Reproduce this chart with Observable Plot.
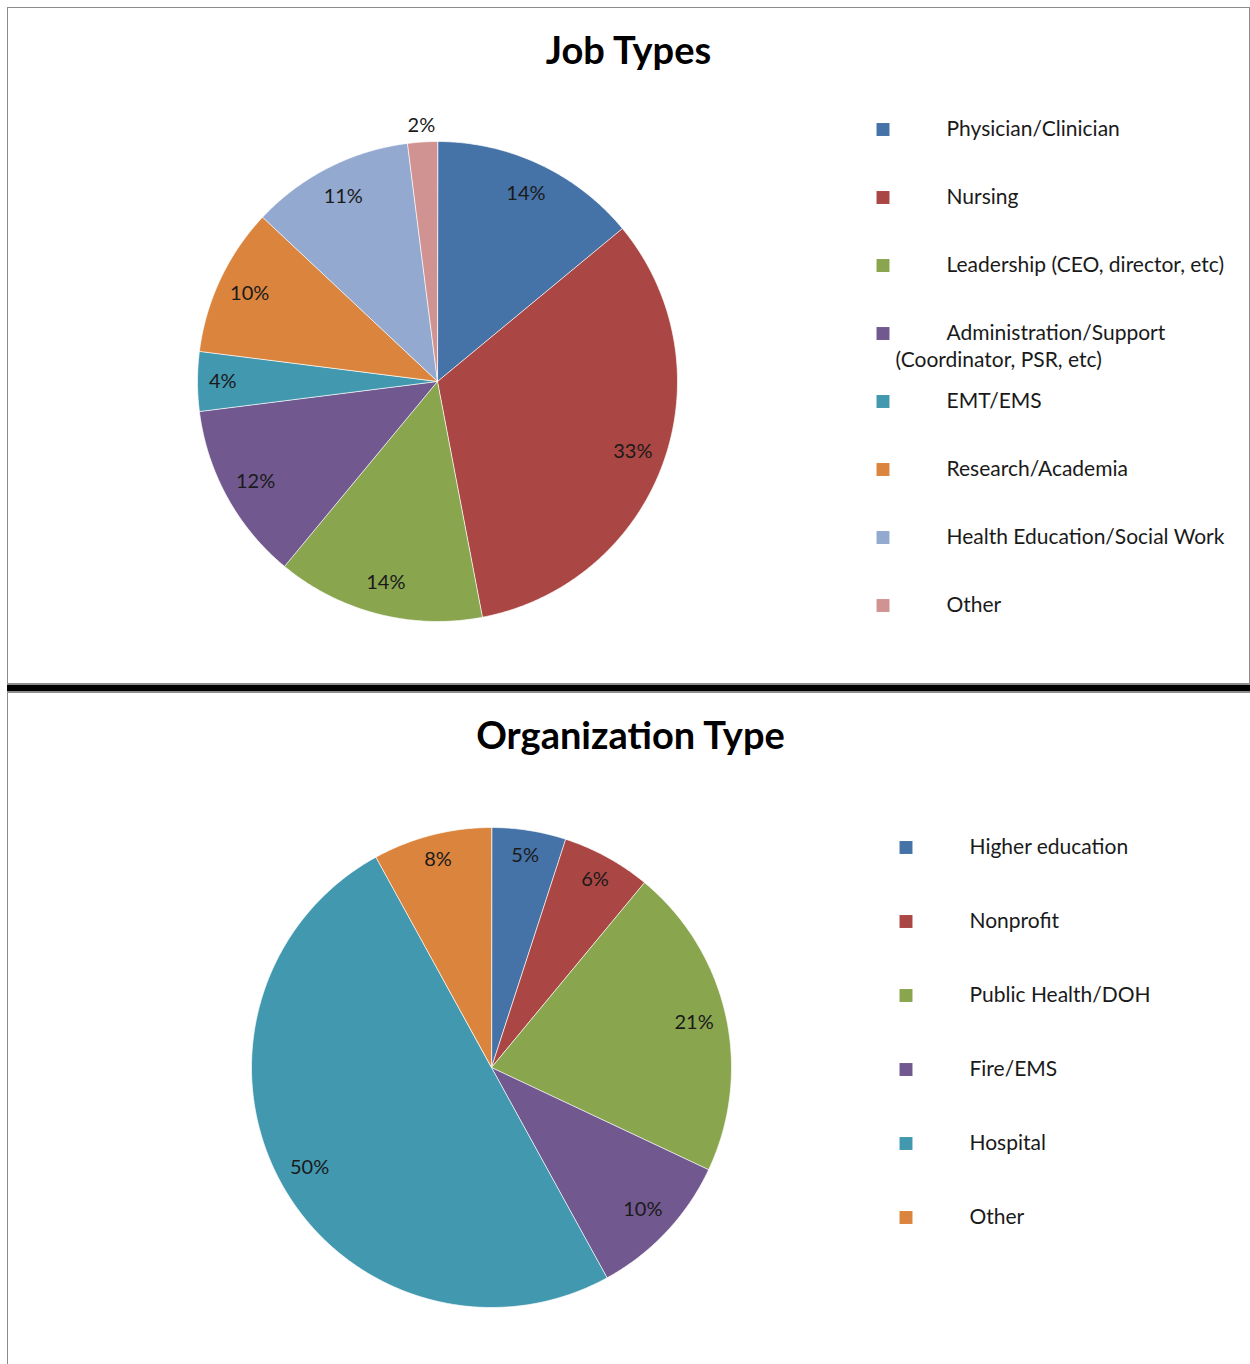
<!DOCTYPE html>
<html>
<head>
<meta charset="utf-8">
<script src="https://cdn.jsdelivr.net/npm/d3@7"></script>
<script src="https://cdn.jsdelivr.net/npm/@observablehq/plot@0.6"></script>
<style>
  body { margin: 0; background: #fff; font-family: Lato, "Noto Sans", sans-serif; }
  #page { position: relative; width: 1250px; height: 1364px; overflow: hidden; background: #fff; }
  .abs { position: absolute; }
  #box1 { left: 7px; top: 7px; width: 1243px; height: 677px; box-sizing: border-box;
          border: 1px solid #8c8c8c; border-bottom: none; }
  #rule { left: 7px; top: 683px; width: 1243px; height: 10px; box-sizing: border-box; background: #000;
          border-top: 2px solid #8c8c8c; border-bottom: 2px solid #8c8c8c; }
  #box2 { left: 7px; top: 693px; width: 1243px; height: 671px; box-sizing: border-box;
          border-left: 1px solid #8c8c8c; }
  .title { left: 7px; width: 1243px; text-align: center; font-weight: bold; font-size: 38px;
           line-height: 38px; color: #000; }
  svg { overflow: visible; }
</style>
</head>
<body>
<div id="page">
  <div id="box1" class="abs"></div>
  <div id="rule" class="abs"></div>
  <div id="box2" class="abs"></div>
  <div class="abs title" style="top:30px">Job Types</div>
  <div class="abs title" style="top:715px;left:9px">Organization Type</div>
</div>
<script>
// Survey shares (percent) by job type
const jobTypes = [
  "Physician/Clinician",
  "Nursing",
  "Leadership (CEO, director, etc)",
  "Administration/Support\n(Coordinator, PSR, etc)",
  "EMT/EMS",
  "Research/Academia",
  "Health Education/Social Work",
  "Other"
];
const jobShares = [14, 33, 14, 12, 4, 10, 11, 2];
const jobColors = ["#4572a7", "#aa4643", "#89a54e", "#71588f", "#4198af", "#db843d", "#93a9cf", "#d19392"];

// Survey shares (percent) by organization type
const orgTypes = ["Higher education", "Nonprofit", "Public Health/DOH", "Fire/EMS", "Hospital", "Other"];
const orgShares = [5, 6, 21, 10, 50, 8];
const orgColors = ["#4572a7", "#aa4643", "#89a54e", "#71588f", "#4198af", "#db843d"];

const FONT = "Lato, 'Noto Sans', sans-serif";

// Turn shares into unit-circle wedge polygons, clockwise from 12 o'clock
function wedges(names, values) {
  const total = d3.sum(values);
  let acc = 0;
  return names.map((name, i) => {
    const a0 = (acc / total) * 2 * Math.PI;
    acc += values[i];
    const a1 = (acc / total) * 2 * Math.PI;
    const steps = Math.max(2, Math.ceil((a1 - a0) / (Math.PI / 360)));
    const ring = [[0, 0]];
    for (let k = 0; k <= steps; k++) {
      const a = a0 + ((a1 - a0) * k) / steps;
      ring.push([Math.sin(a), -Math.cos(a)]);
    }
    ring.push([0, 0]);
    return {
      type: "Feature",
      properties: {name, value: values[i], mid: (a0 + a1) / 2},
      geometry: {type: "Polygon", coordinates: [ring]}
    };
  });
}

// Label radius: tiny slices get their label just outside the rim,
// narrow slices sit a little nearer the edge than wide ones
const labelR = (d) => {
  const v = d.properties.value;
  return v < 3 ? 1.07 : v < 9 ? 0.895 : 0.865;
};

function pie(names, values, colors) {
  const data = wedges(names, values);
  return Plot.plot({
    width: 560,
    height: 560,
    margin: 40,
    projection: {
      type: "identity",
      domain: {type: "MultiPoint", coordinates: [[-1, -1], [1, 1]]},
      inset: 0,
      clip: false
    },
    color: {domain: names, range: colors},
    style: {fontFamily: FONT, background: "transparent"},
    marks: [
      Plot.geo(data, {fill: (d) => d.properties.name, stroke: "#ffffff", strokeWidth: 1, strokeOpacity: 0.7}),
      Plot.text(data, {
        x: (d) => labelR(d) * Math.sin(d.properties.mid),
        y: (d) => -labelR(d) * Math.cos(d.properties.mid),
        text: (d) => `${d.properties.value}%`,
        fontSize: 20,
        fill: "#1a1a1a",
        clip: false
      })
    ]
  });
}

function legend(names, colors, {top, height, first, last, swatchX, textX, wrapX}) {
  const rows = names.map((n) => {
    const [line1, ...rest] = n.split("\n");
    return {key: n, line1, line2: rest.join(" ")};
  });
  return Plot.plot({
    width: 390,
    height,
    margin: 0,
    y: {type: "point", domain: names, range: [first - top, last - top], padding: 0, axis: null},
    color: {domain: names, range: colors},
    style: {fontFamily: FONT, background: "transparent"},
    marks: [
      Plot.dot(rows, {y: "key", fill: "key", symbol: "square", r: 7.3, frameAnchor: "left", dx: swatchX, stroke: null}),
      Plot.text(rows, {y: "key", text: "line1", frameAnchor: "left", textAnchor: "start", dx: textX, fontSize: 21, fill: "#1a1a1a"}),
      Plot.text(rows.filter((d) => d.line2), {y: "key", text: "line2", frameAnchor: "left", textAnchor: "start", dx: wrapX, dy: 27, fontSize: 21, fill: "#1a1a1a"})
    ]
  });
}

const page = document.getElementById("page");
function place(node, left, top) {
  node.style.position = "absolute";
  node.style.left = left + "px";
  node.style.top = top + "px";
  page.appendChild(node);
}

// Job types: pie centred at (437, 381), radius 240
place(pie(jobTypes, jobShares, jobColors), 157, 101);
place(legend(jobTypes, jobColors, {top: 100, height: 540, first: 127, last: 606, swatchX: 22.5, textX: 86, wrapX: 35}), 860, 100);

// Organization type: pie centred at (491, 1067), radius 240
place(pie(orgTypes, orgShares, orgColors), 211, 787);
place(legend(orgTypes, orgColors, {top: 820, height: 430, first: 845, last: 1218, swatchX: 45.5, textX: 109, wrapX: 58}), 860, 820);
</script>
</body>
</html>
